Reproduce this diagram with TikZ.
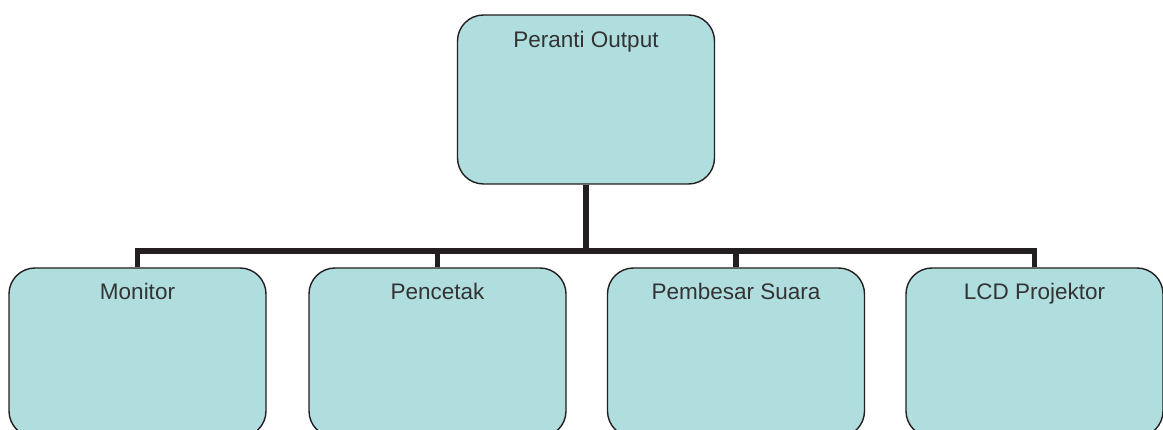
\documentclass[tikz,border=0pt]{standalone}
\usepackage{fontspec}
\setmainfont{Liberation Sans}
\definecolor{boxfill}{HTML}{B0DEDF}
\definecolor{edge}{HTML}{231F20}
\definecolor{txt}{HTML}{333333}
\begin{document}
\begin{tikzpicture}[x=1pt,y=-1pt,
  orgbox/.style={draw=edge, line width=1.4pt, fill=boxfill, rounded corners=26pt,
    minimum width=257pt, minimum height=169pt, inner sep=0pt},
  boxtext/.style={font=\fontsize{22.5}{26}\selectfont, text=txt, anchor=base},
  bus/.style={draw=edge, line width=5.5pt, line join=miter}]
\clip (0,0) rectangle (1163,430);
\fill[white] (0,0) rectangle (1163,430);
\node[orgbox] (top) at (586,99.5) {};
\node[orgbox] (m) at (137.5,352.5) {};
\node[orgbox] (p) at (437.5,352.5) {};
\node[orgbox] (s) at (736,352.5) {};
\node[orgbox] (l) at (1034.5,352.5) {};
\node[boxtext] (ttop) at ([yshift=-33pt]top.north) {Peranti Output};
\node[boxtext] (tm) at ([yshift=-32pt]m.north) {Monitor};
\node[boxtext] (tp) at ([yshift=-32pt]p.north) {Pencetak};
\node[boxtext] (ts) at ([yshift=-32pt]s.north) {Pembesar Suara};
\node[boxtext] (tl) at ([yshift=-32pt]l.north) {LCD Projektor};
\coordinate (hub) at (586,251);
\path[bus] (top.south) -- (hub);
\path[bus] (m.north) |- (hub);
\path[bus] (l.north) |- (hub);
\path[bus] (p.north) -- (p.north |- hub);
\path[bus] (s.north) -- (s.north |- hub);
\end{tikzpicture}
\end{document}
